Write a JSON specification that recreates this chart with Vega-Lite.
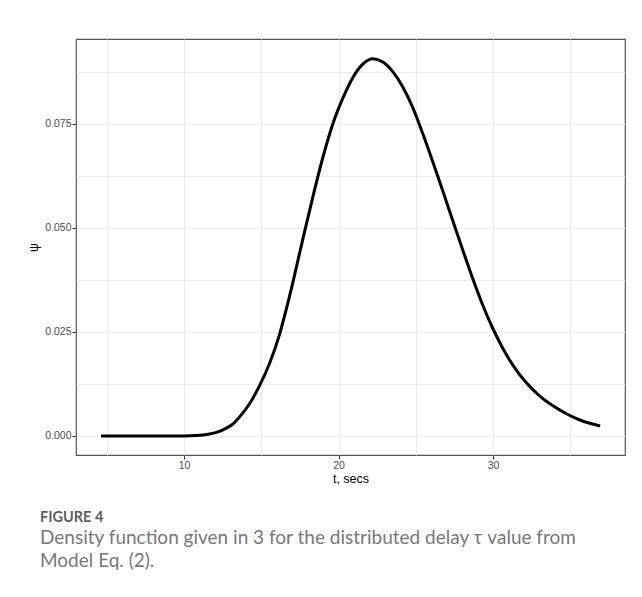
{
  "$schema": "https://vega.github.io/schema/vega-lite/v6.json",
  "width": 549,
  "height": 416,
  "autosize": {"type": "none"},
  "padding": {"left": 76, "top": 39, "right": 17, "bottom": 142},
  "background": "white",
  "title": {
    "text": "FIGURE 4",
    "subtitle": ["Density function given in 3 for the distributed delay τ value from", "Model Eq. (2)."],
    "orient": "bottom",
    "anchor": "start",
    "frame": "group",
    "dx": -36,
    "offset": 26,
    "font": "Lato",
    "fontSize": 14.5,
    "fontWeight": "bold",
    "color": "#5f5f5f",
    "subtitleFont": "Lato",
    "subtitleFontSize": 19,
    "subtitleColor": "#777777",
    "subtitleLineHeight": 23.5,
    "subtitlePadding": 3
  },
  "config": {
    "view": {"stroke": "#555555", "strokeWidth": 1.2},
    "axis": {
      "domain": false,
      "gridColor": "#ebebeb",
      "gridWidth": 1,
      "tickColor": "#333333",
      "tickSize": 4,
      "tickWidth": 1,
      "labelFont": "Liberation Sans",
      "labelFontSize": 10.5,
      "labelColor": "#4d4d4d",
      "titleFont": "Liberation Sans",
      "titleFontSize": 12.5,
      "titleFontWeight": "normal",
      "titleColor": "#000000"
    }
  },
  "data": {
    "values": [
      {"t": 4.63, "psi": 0}, {"t": 6, "psi": 0}, {"t": 8, "psi": 0}, {"t": 10, "psi": 0},
      {"t": 10.8, "psi": 0.0001}, {"t": 11.66, "psi": 0.0005}, {"t": 12.2, "psi": 0.001},
      {"t": 12.74, "psi": 0.0019}, {"t": 13.2, "psi": 0.003}, {"t": 13.6, "psi": 0.0046},
      {"t": 14.25, "psi": 0.0078}, {"t": 14.89, "psi": 0.0121}, {"t": 15.54, "psi": 0.0175},
      {"t": 16.19, "psi": 0.0245}, {"t": 16.6, "psi": 0.0302}, {"t": 17.05, "psi": 0.0370},
      {"t": 17.7, "psi": 0.0475}, {"t": 18.34, "psi": 0.0575}, {"t": 18.99, "psi": 0.0670},
      {"t": 19.63, "psi": 0.0750}, {"t": 20.28, "psi": 0.0812}, {"t": 20.93, "psi": 0.0862},
      {"t": 21.57, "psi": 0.0894}, {"t": 22.22, "psi": 0.0907}, {"t": 22.87, "psi": 0.0899},
      {"t": 23.51, "psi": 0.0876}, {"t": 24.16, "psi": 0.0839}, {"t": 24.8, "psi": 0.0790},
      {"t": 25.45, "psi": 0.0727}, {"t": 26.1, "psi": 0.0659}, {"t": 26.75, "psi": 0.0589},
      {"t": 27.39, "psi": 0.0518}, {"t": 28.04, "psi": 0.0447}, {"t": 28.69, "psi": 0.0378},
      {"t": 29.33, "psi": 0.0315}, {"t": 29.98, "psi": 0.0259}, {"t": 30.63, "psi": 0.0211},
      {"t": 31.27, "psi": 0.0171}, {"t": 32.13, "psi": 0.0129}, {"t": 32.99, "psi": 0.0097},
      {"t": 33.85, "psi": 0.0073}, {"t": 34.72, "psi": 0.0054}, {"t": 35.58, "psi": 0.0039},
      {"t": 36.93, "psi": 0.0024}
    ]
  },
  "mark": {"type": "line", "color": "#000000", "strokeWidth": 3, "interpolate": "monotone"},
  "encoding": {
    "x": {
      "field": "t",
      "type": "quantitative",
      "title": "t, secs",
      "scale": {"domain": [3.01, 38.54], "nice": false, "zero": false},
      "axis": {
        "values": [5, 10, 15, 20, 25, 30, 35],
        "labelExpr": "datum.value % 10 === 0 ? datum.label : ''",
        "tickOpacity": {"condition": {"test": "datum.value % 10 !== 0", "value": 0}, "value": 1},
        "labelPadding": 1,
        "titlePadding": 2
      }
    },
    "y": {
      "field": "psi",
      "type": "quantitative",
      "title": "ψ",
      "scale": {"domain": [-0.00457, 0.09543], "nice": false, "zero": false},
      "axis": {
        "values": [0, 0.0125, 0.025, 0.0375, 0.05, 0.0625, 0.075, 0.0875],
        "format": ".3f",
        "labelExpr": "round(datum.value * 10000) % 250 === 0 ? datum.label : ''",
        "tickOpacity": {"condition": {"test": "round(datum.value * 10000) % 250 !== 0", "value": 0}, "value": 1},
        "labelPadding": 1,
        "titlePadding": 4
      }
    }
  }
}
